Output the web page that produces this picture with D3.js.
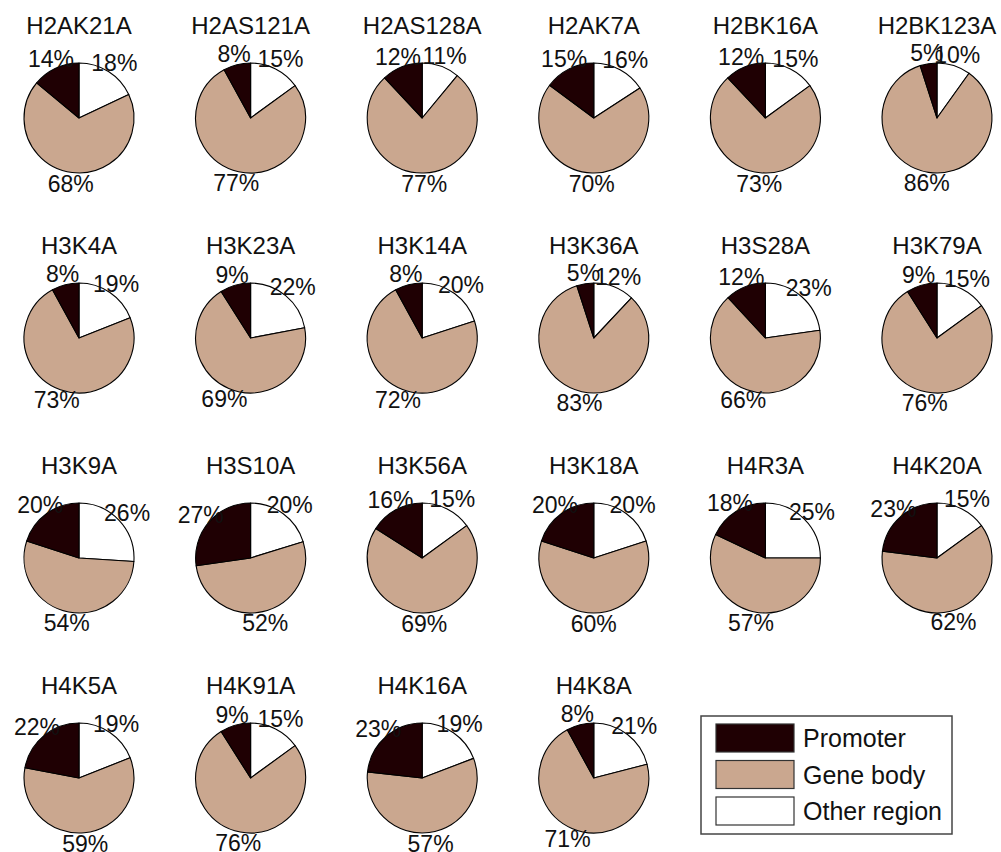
<!DOCTYPE html>
<html>
<head>
<meta charset="utf-8">
<script src="https://cdn.jsdelivr.net/npm/d3@7"></script>
<style>
  html, body { margin: 0; padding: 0; background: #fff; }
  svg { display: block; font-family: "Liberation Sans", Arial, sans-serif; }
</style>
</head>
<body>
<svg id="chart" width="1001" height="852"></svg>
<script>
// Histone mutants and the share of sites falling in each genomic region (%)
const mutants = [
  "H2AK21A", "H2AS121A", "H2AS128A", "H2AK7A", "H2BK16A", "H2BK123A",
  "H3K4A", "H3K23A", "H3K14A", "H3K36A", "H3S28A", "H3K79A",
  "H3K9A", "H3S10A", "H3K56A", "H3K18A", "H4R3A", "H4K20A",
  "H4K5A", "H4K91A", "H4K16A", "H4K8A"
];
const promoter = [14, 8, 12, 15, 12, 5,  8, 9, 8, 5, 12, 9,  20, 27, 16, 20, 18, 23,  22, 9, 23, 8];
const geneBody = [68, 77, 77, 70, 73, 86,  73, 69, 72, 83, 66, 76,  54, 52, 69, 60, 57, 62,  59, 76, 57, 71];
const otherRegion = [18, 15, 11, 16, 15, 10,  19, 22, 20, 12, 23, 15,  26, 20, 15, 20, 25, 15,  19, 15, 19, 21];

const regionNames = ["Promoter", "Gene body", "Other region"];
const regionColors = ["#1f0003", "#caa78f", "#ffffff"];

const svg = d3.select("#chart");
const nCols = 6, nRows = 4;
const radius = 55;

const xPos = d3.scalePoint().domain(d3.range(nCols)).range([79, 937]);
const yPos = d3.scalePoint().domain(d3.range(nRows)).range([118, 778]);
const color = d3.scaleOrdinal().domain(regionNames).range(regionColors);

// Slices run clockwise from 12 o'clock: other region, gene body, promoter
const pie = d3.pie().sort(null).value(d => d.value).startAngle(0).endAngle(2 * Math.PI);
const arc = d3.arc().innerRadius(0).outerRadius(radius);
const labelArc = d3.arc().innerRadius(radius * 1.2).outerRadius(radius * 1.2);

const labelSize = 23;

mutants.forEach((name, i) => {
  const col = i % nCols, row = Math.floor(i / nCols);
  const g = svg.append("g")
    .attr("transform", `translate(${xPos(col)},${yPos(row)})`);

  const slices = [
    { region: "Other region", value: otherRegion[i] },
    { region: "Gene body", value: geneBody[i] },
    { region: "Promoter", value: promoter[i] }
  ];
  const arcs = pie(slices);

  g.selectAll("path.slice")
    .data(arcs)
    .join("path")
    .attr("class", "slice")
    .attr("d", arc)
    .attr("fill", d => color(d.data.region))
    .attr("stroke", "#000")
    .attr("stroke-width", 1.1)
    .attr("stroke-linejoin", "round");

  g.append("text")
    .attr("x", 0)
    .attr("y", -84)
    .attr("text-anchor", "middle")
    .attr("font-size", 24)
    .attr("fill", "#111")
    .text(name);

  g.selectAll("text.pct")
    .data(arcs)
    .join("text")
    .attr("class", "pct")
    .attr("x", d => labelArc.centroid(d)[0])
    .attr("y", d => labelArc.centroid(d)[1] + labelSize * 0.36)
    .attr("text-anchor", "middle")
    .attr("font-size", labelSize)
    .attr("fill", "#111")
    .text(d => d.data.value + "%");
});

// Legend
const legend = svg.append("g").attr("transform", "translate(701,716)");
legend.append("rect")
  .attr("width", 251).attr("height", 118)
  .attr("fill", "#fff").attr("stroke", "#444").attr("stroke-width", 1.5);

const legendY = d3.scalePoint().domain(regionNames).range([22, 95]);
const items = legend.selectAll("g.item")
  .data(regionNames)
  .join("g")
  .attr("class", "item")
  .attr("transform", d => `translate(0,${legendY(d)})`);

items.append("rect")
  .attr("x", 15).attr("y", -14)
  .attr("width", 78).attr("height", 28)
  .attr("fill", d => color(d))
  .attr("stroke", "#333").attr("stroke-width", 1.2);

items.append("text")
  .attr("x", 102)
  .attr("y", 25 * 0.36)
  .attr("font-size", 25)
  .attr("fill", "#111")
  .text(d => d);
</script>
</body>
</html>
